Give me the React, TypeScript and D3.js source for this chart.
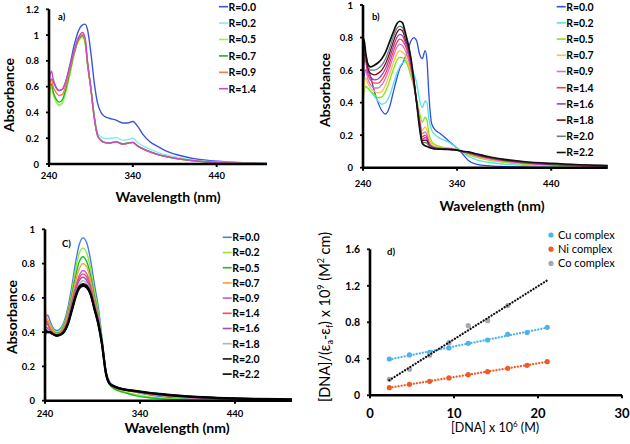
import React from 'react';
import * as d3 from 'd3';

const FONT = 'Lato, "Open Sans", "DejaVu Sans", sans-serif';

// ---------- Panel a ----------
const labelsA = ['R=0.0', 'R=0.2', 'R=0.5', 'R=0.7', 'R=0.9', 'R=1.4'];
const colorsA = ['#3a55d6', '#7ff0f5', '#a6f03c', '#1fb41f', '#ff7a45', '#c64cc9'];
const wavelengthA = [240, 241, 243, 245, 248, 252, 256, 260, 265, 270, 275, 280, 283, 286, 290, 294, 298, 302, 306, 312, 320, 328, 334, 340, 346, 352, 360, 370, 380, 395, 410, 430, 460, 500];
const aR00 = [0.60, 0.64, 0.66, 0.64, 0.60, 0.57, 0.58, 0.64, 0.77, 0.92, 1.03, 1.08, 1.085, 1.04, 0.86, 0.63, 0.47, 0.40, 0.37, 0.355, 0.34, 0.318, 0.318, 0.33, 0.29, 0.23, 0.175, 0.135, 0.10, 0.068, 0.045, 0.028, 0.014, 0.005];
const aR02 = [0.55, 0.60, 0.62, 0.55, 0.49, 0.45, 0.47, 0.55, 0.70, 0.85, 0.96, 0.99, 0.95, 0.78, 0.59, 0.38, 0.24, 0.21, 0.2, 0.198, 0.205, 0.185, 0.19, 0.2, 0.165, 0.14, 0.115, 0.09, 0.07, 0.05, 0.034, 0.02, 0.01, 0.004];
const aR05 = [0.45, 0.55, 0.60, 0.54, 0.49, 0.46, 0.48, 0.56, 0.70, 0.85, 0.95, 0.98, 0.94, 0.77, 0.58, 0.36, 0.22, 0.185, 0.17, 0.165, 0.174, 0.157, 0.164, 0.17, 0.14, 0.12, 0.097, 0.075, 0.058, 0.04, 0.027, 0.016, 0.008, 0.003];
const aR07 = [0.42, 0.60, 0.62, 0.56, 0.51, 0.48, 0.50, 0.58, 0.72, 0.86, 0.96, 0.995, 0.955, 0.775, 0.58, 0.36, 0.22, 0.183, 0.168, 0.163, 0.172, 0.155, 0.162, 0.168, 0.138, 0.118, 0.095, 0.073, 0.057, 0.039, 0.026, 0.015, 0.007, 0.003];
const aR09 = [0.50, 0.60, 0.66, 0.60, 0.56, 0.53, 0.54, 0.61, 0.74, 0.87, 0.97, 1.005, 0.965, 0.78, 0.58, 0.36, 0.22, 0.182, 0.166, 0.161, 0.17, 0.153, 0.16, 0.166, 0.137, 0.117, 0.095, 0.073, 0.057, 0.039, 0.026, 0.015, 0.007, 0.003];
const aR14 = [0.55, 0.68, 0.72, 0.66, 0.60, 0.57, 0.58, 0.64, 0.76, 0.88, 0.98, 1.02, 0.98, 0.79, 0.585, 0.36, 0.22, 0.183, 0.168, 0.163, 0.172, 0.155, 0.162, 0.168, 0.138, 0.118, 0.096, 0.074, 0.058, 0.04, 0.027, 0.016, 0.008, 0.003];

// ---------- Panel b ----------
const labelsBC = ['R=0.0', 'R=0.2', 'R=0.5', 'R=0.7', 'R=0.9', 'R=1.4', 'R=1.6', 'R=1.8', 'R=2.0', 'R=2.2'];
const colorsB = ['#2d4fdc', '#55e0ee', '#80e810', '#ffbe40', '#cf6fe0', '#ff3b3b', '#9a3fc9', '#7a0a0a', '#5f7f8f', '#111111'];
const wavelengthB = [240, 241, 243, 245, 248, 252, 256, 260, 264, 268, 272, 276, 279, 282, 285, 288, 291, 294, 297, 300, 303, 306, 308, 310, 313, 317, 322, 330, 338, 345, 352, 360, 375, 390, 410, 440, 470, 500];
const bR00 = [0.45, 0.55, 0.60, 0.60, 0.56, 0.47, 0.40, 0.35, 0.33, 0.37, 0.46, 0.55, 0.61, 0.64, 0.68, 0.73, 0.78, 0.80, 0.78, 0.70, 0.67, 0.72, 0.66, 0.45, 0.27, 0.23, 0.21, 0.17, 0.13, 0.09, 0.045, 0.022, 0.011, 0.007, 0.005, 0.003, 0.002, 0.001];
const bR02 = [0.40, 0.48, 0.50, 0.49, 0.47, 0.44, 0.41, 0.39, 0.40, 0.44, 0.51, 0.58, 0.62, 0.645, 0.65, 0.63, 0.59, 0.575, 0.52, 0.42, 0.37, 0.41, 0.40, 0.30, 0.23, 0.2, 0.18, 0.16, 0.13, 0.1, 0.07, 0.05, 0.032, 0.022, 0.014, 0.008, 0.005, 0.003];
const bR05 = [0.38, 0.47, 0.50, 0.49, 0.47, 0.45, 0.43, 0.435, 0.47, 0.53, 0.60, 0.66, 0.68, 0.675, 0.66, 0.62, 0.56, 0.50, 0.42, 0.34, 0.28, 0.31, 0.29, 0.21, 0.16, 0.14, 0.13, 0.12, 0.115, 0.1, 0.08, 0.065, 0.045, 0.033, 0.022, 0.013, 0.008, 0.005];
const bR07 = [0.37, 0.5, 0.55, 0.52, 0.49, 0.47, 0.46, 0.47, 0.51, 0.57, 0.64, 0.70, 0.72, 0.71, 0.69, 0.64, 0.58, 0.50, 0.41, 0.31, 0.23, 0.25, 0.23, 0.18, 0.145, 0.13, 0.125, 0.12, 0.115, 0.1, 0.085, 0.07, 0.05, 0.037, 0.025, 0.015, 0.009, 0.006];
const bR09 = [0.5, 0.6, 0.6, 0.55, 0.51, 0.49, 0.49, 0.51, 0.55, 0.61, 0.68, 0.74, 0.76, 0.75, 0.72, 0.67, 0.60, 0.51, 0.405, 0.30, 0.21, 0.22, 0.2, 0.16, 0.135, 0.125, 0.12, 0.118, 0.112, 0.1, 0.088, 0.074, 0.054, 0.04, 0.028, 0.017, 0.011, 0.007];
const bR14 = [0.55, 0.68, 0.65, 0.58, 0.54, 0.52, 0.52, 0.54, 0.58, 0.64, 0.71, 0.77, 0.79, 0.78, 0.75, 0.70, 0.62, 0.52, 0.40, 0.29, 0.19, 0.2, 0.185, 0.15, 0.13, 0.122, 0.118, 0.116, 0.11, 0.1, 0.09, 0.077, 0.057, 0.043, 0.03, 0.019, 0.012, 0.008];
const bR16 = [0.5, 0.65, 0.66, 0.6, 0.56, 0.54, 0.545, 0.57, 0.61, 0.67, 0.74, 0.80, 0.82, 0.81, 0.77, 0.72, 0.64, 0.53, 0.40, 0.28, 0.175, 0.185, 0.175, 0.145, 0.128, 0.12, 0.117, 0.115, 0.11, 0.1, 0.092, 0.079, 0.06, 0.045, 0.032, 0.02, 0.013, 0.009];
const bR18 = [0.45, 0.70, 0.68, 0.62, 0.58, 0.57, 0.58, 0.60, 0.64, 0.70, 0.77, 0.83, 0.85, 0.84, 0.79, 0.74, 0.65, 0.535, 0.40, 0.27, 0.165, 0.17, 0.165, 0.14, 0.125, 0.118, 0.116, 0.114, 0.11, 0.1, 0.094, 0.082, 0.062, 0.047, 0.034, 0.022, 0.015, 0.01];
const bR20 = [0.5, 0.72, 0.70, 0.64, 0.60, 0.60, 0.61, 0.63, 0.67, 0.73, 0.80, 0.855, 0.87, 0.86, 0.81, 0.75, 0.66, 0.54, 0.40, 0.26, 0.155, 0.155, 0.15, 0.135, 0.122, 0.116, 0.115, 0.113, 0.11, 0.1, 0.095, 0.084, 0.064, 0.049, 0.036, 0.024, 0.016, 0.011];
const bR22 = [0.4, 0.79, 0.70, 0.64, 0.62, 0.63, 0.645, 0.67, 0.71, 0.77, 0.83, 0.885, 0.90, 0.89, 0.83, 0.76, 0.67, 0.54, 0.40, 0.25, 0.15, 0.135, 0.13, 0.125, 0.12, 0.115, 0.114, 0.112, 0.11, 0.102, 0.097, 0.086, 0.066, 0.051, 0.038, 0.026, 0.018, 0.013];

// ---------- Panel c ----------
const colorsC = ['#4a7ae8', '#8de83a', '#1ebd1e', '#ff9a3a', '#b85ee0', '#ff4a4a', '#a94bb8', '#a7b7c2', '#111111', '#000000'];
const wavelengthC = [240, 241, 243, 245, 248, 252, 256, 260, 264, 268, 272, 276, 280, 284, 288, 292, 296, 300, 304, 308, 312, 318, 325, 335, 345, 360, 380, 400, 430, 460, 500];
const cR00 = [0.45, 0.48, 0.50, 0.47, 0.43, 0.41, 0.42, 0.46, 0.54, 0.66, 0.80, 0.91, 0.95, 0.92, 0.82, 0.68, 0.55, 0.37, 0.18, 0.11, 0.09, 0.075, 0.065, 0.05, 0.038, 0.025, 0.015, 0.009, 0.005, 0.003, 0.002];
const cR02 = [0.45, 0.44, 0.47, 0.45, 0.42, 0.40, 0.41, 0.45, 0.52, 0.63, 0.76, 0.86, 0.89, 0.86, 0.77, 0.64, 0.52, 0.35, 0.17, 0.1, 0.078, 0.062, 0.05, 0.036, 0.026, 0.016, 0.01, 0.006, 0.004, 0.003, 0.002];
const cR05 = [0.42, 0.45, 0.46, 0.44, 0.41, 0.395, 0.40, 0.44, 0.51, 0.61, 0.72, 0.81, 0.84, 0.81, 0.73, 0.61, 0.50, 0.34, 0.165, 0.095, 0.072, 0.056, 0.045, 0.03, 0.02, 0.012, 0.007, 0.005, 0.003, 0.002, 0.001];
const cR07 = [0.63, 0.50, 0.47, 0.44, 0.41, 0.39, 0.395, 0.43, 0.50, 0.59, 0.69, 0.77, 0.80, 0.78, 0.70, 0.59, 0.49, 0.34, 0.165, 0.1, 0.08, 0.067, 0.059, 0.05, 0.042, 0.032, 0.022, 0.015, 0.009, 0.006, 0.004];
const cR09 = [0.55, 0.47, 0.45, 0.42, 0.395, 0.385, 0.39, 0.42, 0.48, 0.57, 0.66, 0.73, 0.76, 0.74, 0.67, 0.57, 0.48, 0.335, 0.165, 0.1, 0.081, 0.068, 0.06, 0.052, 0.044, 0.034, 0.024, 0.017, 0.01, 0.007, 0.005];
const cR14 = [0.48, 0.46, 0.44, 0.42, 0.40, 0.385, 0.39, 0.42, 0.47, 0.56, 0.65, 0.715, 0.74, 0.72, 0.66, 0.56, 0.47, 0.335, 0.165, 0.1, 0.082, 0.069, 0.061, 0.053, 0.045, 0.035, 0.025, 0.018, 0.011, 0.007, 0.005];
const cR16 = [0.42, 0.43, 0.42, 0.41, 0.39, 0.38, 0.385, 0.41, 0.46, 0.55, 0.635, 0.70, 0.72, 0.70, 0.645, 0.55, 0.465, 0.333, 0.165, 0.1, 0.083, 0.07, 0.062, 0.054, 0.046, 0.036, 0.026, 0.019, 0.012, 0.008, 0.005];
const cR18 = [0.40, 0.42, 0.41, 0.405, 0.39, 0.38, 0.385, 0.41, 0.455, 0.54, 0.62, 0.68, 0.70, 0.685, 0.635, 0.545, 0.46, 0.332, 0.165, 0.1, 0.084, 0.071, 0.063, 0.055, 0.047, 0.037, 0.027, 0.02, 0.013, 0.009, 0.006];
const cR20 = [0.38, 0.41, 0.40, 0.40, 0.39, 0.38, 0.385, 0.405, 0.45, 0.53, 0.61, 0.665, 0.68, 0.67, 0.625, 0.54, 0.455, 0.331, 0.165, 0.1, 0.085, 0.072, 0.064, 0.056, 0.048, 0.038, 0.028, 0.021, 0.014, 0.01, 0.007];
const cR22 = [0.39, 0.40, 0.40, 0.40, 0.39, 0.38, 0.385, 0.40, 0.445, 0.52, 0.60, 0.655, 0.67, 0.66, 0.62, 0.535, 0.45, 0.33, 0.165, 0.1, 0.086, 0.073, 0.065, 0.057, 0.05, 0.04, 0.03, 0.022, 0.015, 0.011, 0.008];

// ---------- Panel d ----------
const dnaConc = [2.3, 4.7, 7.1, 9.4, 11.7, 14.0, 16.4, 18.7, 21.1];
const cuValues = [0.398, 0.442, 0.471, 0.519, 0.57, 0.606, 0.668, 0.687, 0.745];
const niValues = [0.084, 0.12, 0.153, 0.19, 0.226, 0.259, 0.296, 0.329, 0.369];
const coConc = [2.3, 4.7, 7.1, 9.4, 11.7, 14.0, 16.4];
const coValues = [0.175, 0.285, 0.44, 0.577, 0.763, 0.818, 0.983];
const complexLabels = ['Cu complex', 'Ni complex', 'Co complex'];
const complexColors = ['#4db3ea', '#f05a28', '#a3aab2'];
const trendColors = ['#4db3ea', '#f05a28', '#111111'];

const wavelengthTicks = [240, 340, 440];

const fmt = (d: number) => String(Number(d.toFixed(1)));

type SpecProps = {
  left: number; right: number; bottom: number; top: number; yMax: number;
  wl: number[]; series: number[][]; colors: string[]; labels: string[]; widths: number[];
  legendLineX: number; legendY: number; legendStep: number;
  xTickBaseline: number; titleX: number; titleY: number; yTitleX: number; yTitleY: number;
  tag: string; tagX: number; tagY: number;
};

function SpectrumPanel(p: SpecProps) {
  const x = d3.scaleLinear().domain([240, 500]).range([p.left, p.right]);
  const y = d3.scaleLinear().domain([0, p.yMax]).range([p.bottom, p.top]);
  const yTicks = d3.range(0, p.yMax + 1e-6, 0.2);
  const line = (vals: number[]) =>
    d3.line<number>().x((_, i) => x(p.wl[i])).y((v) => y(v)).curve(d3.curveMonotoneX)(vals) || '';
  return (
    <g>
      {p.series.map((s, i) => (
        <path key={i} d={line(s)} fill="none" stroke={p.colors[i]} strokeWidth={p.widths[i]} strokeLinejoin="round" />
      ))}
      <line x1={p.left} x2={p.left} y1={p.bottom} y2={y(p.yMax)} stroke="#000" strokeWidth={2.6} />
      <line x1={p.left} x2={p.right} y1={p.bottom} y2={p.bottom} stroke="#000" strokeWidth={2.6} />
      {yTicks.map((t) => (
        <g key={'y' + t}>
          <line x1={p.left - 3} x2={p.left} y1={y(t)} y2={y(t)} stroke="#000" strokeWidth={1.8} />
          <text x={p.left - 10} y={y(t) + 3.5} textAnchor="end" fontSize={9.5} fontWeight="bold" fontFamily={FONT}>{fmt(t)}</text>
        </g>
      ))}
      {wavelengthTicks.map((t) => (
        <g key={'x' + t}>
          <line x1={x(t)} x2={x(t)} y1={p.bottom} y2={p.bottom + 3} stroke="#000" strokeWidth={2} />
          <text x={x(t)} y={p.xTickBaseline} textAnchor="middle" fontSize={9.5} fontWeight="bold" fontFamily={FONT}>{t}</text>
        </g>
      ))}
      <text x={p.titleX} y={p.titleY} textAnchor="middle" fontSize={14} fontWeight="bold" fontFamily={FONT}>Wavelength (nm)</text>
      <text transform={`translate(${p.yTitleX},${p.yTitleY}) rotate(-90)`} textAnchor="middle" fontSize={14} fontWeight="bold" fontFamily={FONT}>Absorbance</text>
      <text x={p.tagX} y={p.tagY} fontSize={9.5} fontWeight="bold" fontFamily={FONT}>{p.tag}</text>
      {p.labels.map((l, i) => {
        const cy = p.legendY + i * p.legendStep;
        return (
          <g key={l}>
            <line x1={p.legendLineX} x2={p.legendLineX + 9} y1={cy} y2={cy} stroke={p.colors[i]} strokeWidth={1.6} />
            <text x={p.legendLineX + 9.5} y={cy + 3.8} fontSize={10.5} fontWeight="bold" fontFamily={FONT}>{l}</text>
          </g>
        );
      })}
    </g>
  );
}

function regression(xs: number[], ys: number[]) {
  const mx = d3.mean(xs)!;
  const my = d3.mean(ys)!;
  let sxy = 0, sxx = 0;
  xs.forEach((v, i) => { sxy += (v - mx) * (ys[i] - my); sxx += (v - mx) * (v - mx); });
  const slope = sxy / sxx;
  return { slope, intercept: my - slope * mx };
}

function BindingPanel() {
  const left = 370, right = 622, bottom = 395.3, top = 249.3;
  const x = d3.scaleLinear().domain([0, 30]).range([left, right]);
  const y = d3.scaleLinear().domain([0, 1.6]).range([bottom, top]);
  const groups = [
    { xs: dnaConc, ys: cuValues },
    { xs: dnaConc, ys: niValues },
    { xs: coConc, ys: coValues },
  ];
  const x0 = d3.min(dnaConc)!, x1 = d3.max(dnaConc)!;
  return (
    <g>
      {groups.map((g, gi) =>
        g.xs.map((v, i) => <circle key={gi + '-' + i} cx={x(v)} cy={y(g.ys[i])} r={2.6} fill={complexColors[gi]} />)
      )}
      {groups.map((g, gi) => {
        const r = regression(g.xs, g.ys);
        return (
          <line key={'t' + gi} x1={x(x0)} y1={y(r.intercept + r.slope * x0)} x2={x(x1)} y2={y(r.intercept + r.slope * x1)}
            stroke={trendColors[gi]} strokeWidth={2.2} strokeDasharray="0.1 3" strokeLinecap="round" />
        );
      })}
      <line x1={left} x2={left} y1={bottom} y2={top} stroke="#000" strokeWidth={2.6} />
      <line x1={left} x2={right} y1={bottom} y2={bottom} stroke="#000" strokeWidth={2.6} />
      {[0, 0.4, 0.8, 1.2, 1.6].map((t) => (
        <g key={'y' + t}>
          <line x1={left - 3} x2={left} y1={y(t)} y2={y(t)} stroke="#000" strokeWidth={1.8} />
          <text x={left - 10} y={y(t) + 3.8} textAnchor="end" fontSize={10.5} fontWeight="bold" fontFamily={FONT}>{fmt(t)}</text>
        </g>
      ))}
      {[0, 10, 20, 30].map((t) => (
        <g key={'x' + t}>
          <line x1={x(t)} x2={x(t)} y1={bottom} y2={bottom + 3} stroke="#000" strokeWidth={2} />
          <text x={x(t)} y={418} textAnchor="middle" fontSize={13} fontWeight="bold" fontFamily={FONT}>{t}</text>
        </g>
      ))}
      <text x={495} y={432} textAnchor="middle" fontSize={12.5} fontFamily={FONT}>
        [DNA] x 10<tspan dy={-5} fontSize={8}>6</tspan><tspan dy={5}> (M)</tspan>
      </text>
      <text transform="translate(330,317) rotate(-90)" textAnchor="middle" fontSize={14.5} fontFamily={FONT}>
        [DNA]/(ε<tspan dy={3} fontSize={9}>a</tspan><tspan dy={-3}>-ε</tspan><tspan dy={3} fontSize={9}>f</tspan><tspan dy={-3}>) x 10</tspan><tspan dy={-6} fontSize={9}>9</tspan><tspan dy={6}> (M</tspan><tspan dy={-6} fontSize={9}>2</tspan><tspan dy={6}> cm)</tspan>
      </text>
      <text x={387} y={255} fontSize={9.5} fontWeight="bold" fontFamily={FONT}>d)</text>
      {complexLabels.map((l, i) => {
        const cy = 235 + i * 14.2;
        return (
          <g key={l}>
            <circle cx={551} cy={cy} r={2.6} fill={complexColors[i]} />
            <text x={558} y={cy + 4} fontSize={11} fontFamily={FONT}>{l}</text>
          </g>
        );
      })}
    </g>
  );
}

export default function App() {
  const widthsA = labelsA.map(() => 1.4);
  const widthsB = labelsBC.map((_, i) => (i === 9 ? 1.7 : 1.3));
  const widthsC = labelsBC.map((_, i) => (i >= 8 ? 2.2 : 1.4));
  return (
    <svg width={630} height={444} style={{ position: 'absolute', left: 0, top: 0, background: '#fff' }}>
      <rect width={630} height={444} fill="#fff" />
      <SpectrumPanel left={49} right={267} bottom={164} top={9.3} yMax={1.2}
        wl={wavelengthA} series={[aR00, aR02, aR05, aR07, aR09, aR14]} colors={colorsA} labels={labelsA} widths={widthsA}
        legendLineX={219} legendY={6.7} legendStep={16.4}
        xTickBaseline={178.5} titleX={168} titleY={202} yTitleX={14} yTitleY={95}
        tag="a)" tagX={58} tagY={19.5} />
      <SpectrumPanel left={363} right={607.7} bottom={167.7} top={5} yMax={1}
        wl={wavelengthB} series={[bR00, bR02, bR05, bR07, bR09, bR14, bR16, bR18, bR20, bR22]} colors={colorsB} labels={labelsBC} widths={widthsB}
        legendLineX={556.7} legendY={6.7} legendStep={16.2}
        xTickBaseline={187} titleX={492} titleY={211} yTitleX={330} yTitleY={90}
        tag="b)" tagX={372} tagY={19.5} />
      <SpectrumPanel left={45} right={292} bottom={400.7} top={229.3} yMax={1}
        wl={wavelengthC} series={[cR00, cR02, cR05, cR07, cR09, cR14, cR16, cR18, cR20, cR22]} colors={colorsC} labels={labelsBC} widths={widthsC}
        legendLineX={222.7} legendY={237.3} legendStep={15.2}
        xTickBaseline={416.5} titleX={177} titleY={433} yTitleX={17} yTitleY={317}
        tag="C)" tagX={62} tagY={246.5} />
      <BindingPanel />
    </svg>
  );
}
